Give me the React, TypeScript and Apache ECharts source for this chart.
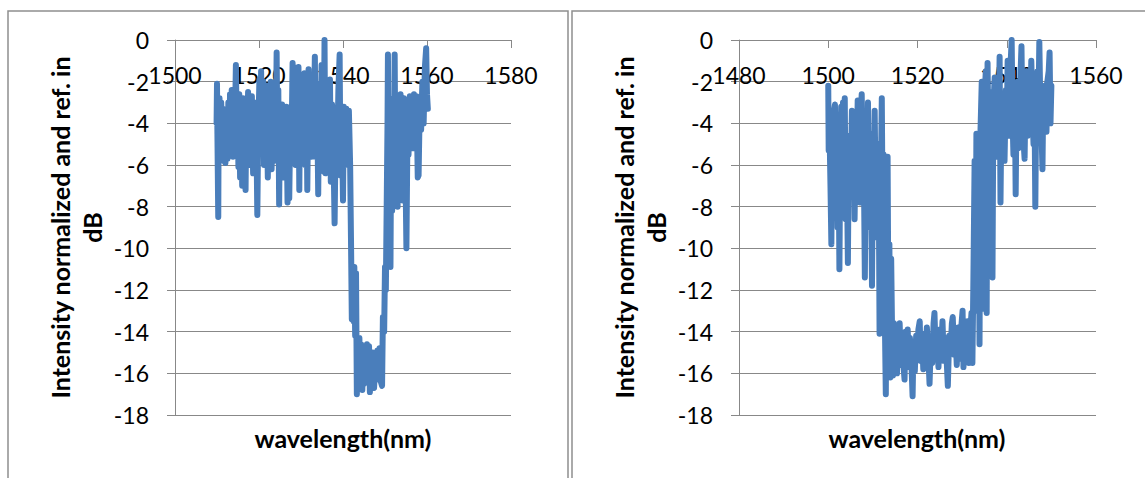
import React, { useEffect, useRef } from "react";
import * as echarts from "echarts";

// ---- Data ----
const leftWavelength = [
  1509.9, 1510.0, 1510.1, 1510.3, 1510.4, 1510.6, 1510.8, 1511.0, 1511.2, 1511.4,
  1511.6, 1511.8, 1512.0, 1512.2, 1512.5, 1512.7, 1512.9, 1513.1, 1513.3, 1513.5,
  1513.8, 1514.0, 1514.2, 1514.5, 1514.7, 1514.9, 1515.1, 1515.3, 1515.5, 1515.8,
  1516.0, 1516.2, 1516.4, 1516.6, 1516.8, 1517.0, 1517.2, 1517.4, 1517.7, 1517.9,
  1518.1, 1518.3, 1518.6, 1518.8, 1519.0, 1519.3, 1519.6, 1519.8, 1520.1, 1520.3,
  1520.5, 1520.7, 1521.0, 1521.2, 1521.4, 1521.6, 1521.8, 1522.1, 1522.3, 1522.5,
  1522.8, 1523.0, 1523.2, 1523.5, 1523.7, 1524.0, 1524.2, 1524.4, 1524.6, 1524.8,
  1525.0, 1525.3, 1525.5, 1525.8, 1526.0, 1526.3, 1526.5, 1526.8, 1527.0, 1527.2,
  1527.5, 1527.7, 1528.0, 1528.2, 1528.4, 1528.7, 1528.9, 1529.1, 1529.4, 1529.6,
  1529.8, 1530.1, 1530.3, 1530.6, 1530.8, 1531.0, 1531.3, 1531.5, 1531.8, 1532.0,
  1532.2, 1532.5, 1532.8, 1533.0, 1533.3, 1533.5, 1533.8, 1534.1, 1534.3, 1534.6,
  1534.9, 1535.1, 1535.4, 1535.6, 1535.8, 1536.0, 1536.3, 1536.6, 1536.9, 1537.1,
  1537.4, 1537.7, 1538.0, 1538.3, 1538.6, 1538.9, 1539.2, 1539.4, 1539.7, 1540.0,
  1540.2, 1540.5, 1540.8, 1541.1, 1541.4, 1541.5, 1541.7, 1541.9, 1542.1, 1542.3,
  1542.5, 1542.7, 1542.9, 1543.1, 1543.3, 1543.5, 1543.7, 1543.9, 1544.1, 1544.3,
  1544.6, 1544.8, 1545.0, 1545.3, 1545.5, 1545.7, 1546.0, 1546.2, 1546.4, 1546.7,
  1546.9, 1547.1, 1547.4, 1547.7, 1547.9, 1548.2, 1548.4, 1548.7, 1549.0, 1549.3,
  1549.5, 1549.8, 1550.0, 1550.2, 1550.4, 1550.6, 1550.7, 1550.9, 1551.1, 1551.3,
  1551.5, 1551.7, 1551.9, 1552.1, 1552.3, 1552.5, 1552.7, 1553.0, 1553.2, 1553.5,
  1553.7, 1554.0, 1554.2, 1554.5, 1554.8, 1555.1, 1555.4, 1555.6, 1555.9, 1556.1,
  1556.4, 1556.7, 1556.9, 1557.2, 1557.5, 1557.8, 1558.0, 1558.3, 1558.6, 1558.9,
  1559.2, 1559.5, 1559.8, 1560.0, 1560.2,
];
const leftIntensity = [
  -4.0, -2.1, -4.5, -8.5, -3.2, -2.8, -5.2, -3.0, -4.6, -3.3,
  -5.8, -4.2, -5.9, -3.6, -5.7, -3.0, -5.4, -2.6, -4.9, -2.4,
  -5.6, -2.7, -4.8, -1.2, -4.4, -2.9, -6.1, -2.6, -6.6, -3.4,
  -7.0, -2.8, -6.3, -3.8, -7.2, -3.1, -5.0, -2.5, -6.0, -3.5,
  -5.5, -2.7, -6.4, -4.0, -5.2, -3.0, -8.4, -4.6, -1.9, -5.4,
  -1.5, -4.3, -2.0, -6.0, -3.2, -5.3, -2.2, -6.6, -3.5, -5.9,
  -2.0, -6.2, -3.9, -5.8, -2.9, -4.8, -0.6, -5.5, -2.4, -7.9,
  -3.3, -6.1, -3.1, -6.6, -3.5, -5.2, -3.2, -7.8, -4.0, -7.6,
  -3.2, -5.6, -1.1, -5.9, -1.3, -6.0, -2.4, -4.6, -1.3, -7.2,
  -1.8, -5.8, -2.2, -5.4, -1.6, -6.0, -2.0, -7.2, -1.4, -5.0,
  -1.9, -5.6, -2.2, -4.5, -0.8, -5.6, -2.1, -7.4, -2.5, -5.4,
  -1.2, -5.1, -6.3, 0.0, -6.4, -4.9, -2.2, -5.2, -1.9, -6.8,
  -3.1, -5.0, -8.8, -3.6, -6.0, -2.4, -0.7, -6.5, -3.3, -7.7,
  -3.2, -6.0, -3.3, -5.9, -3.4, -3.4, -6.0, -9.5, -13.4, -11.5,
  -13.5, -10.9, -14.2, -11.2, -17.0, -14.4, -16.7, -14.3, -16.2, -14.6,
  -16.8, -15.0, -16.5, -14.8, -16.2, -14.6, -16.4, -14.7, -16.9, -15.2,
  -16.6, -15.0, -16.7, -15.4, -16.3, -14.9, -15.8, -14.8, -16.4, -16.6,
  -13.3, -14.0, -10.9, -12.0, -8.0, -4.0, -0.7, -8.3, -2.8, -10.9,
  -3.5, -8.2, -4.2, -7.0, -0.7, -6.8, -2.7, -8.0, -3.0, -7.0,
  -2.6, -5.5, -7.7, -2.8, -5.0, -10.0, -3.2, -5.5, -2.7, -4.6,
  -2.8, -5.2, -2.6, -4.8, -2.7, -6.6, -6.5, -2.8, -4.3, -2.0,
  -4.0, -1.3, -0.4, -2.6, -3.3,
];

const rightWavelength = [
  1500.0, 1500.1, 1500.3, 1500.5, 1500.7, 1500.9, 1501.1, 1501.3, 1501.5, 1501.7,
  1501.9, 1502.1, 1502.3, 1502.5, 1502.7, 1502.9, 1503.1, 1503.3, 1503.5, 1503.7,
  1503.9, 1504.1, 1504.4, 1504.6, 1504.8, 1505.0, 1505.3, 1505.5, 1505.7, 1505.9,
  1506.1, 1506.3, 1506.6, 1506.8, 1507.1, 1507.3, 1507.5, 1507.7, 1507.9, 1508.2,
  1508.4, 1508.6, 1508.9, 1509.1, 1509.3, 1509.5, 1509.8, 1510.0, 1510.2, 1510.4,
  1510.6, 1510.9, 1511.1, 1511.3, 1511.5, 1511.8, 1512.0, 1512.2, 1512.4, 1512.6,
  1512.9, 1513.1, 1513.3, 1513.5, 1513.7, 1513.9, 1514.1, 1514.3, 1514.5, 1514.7,
  1514.9, 1515.1, 1515.4, 1515.6, 1515.8, 1516.0, 1516.3, 1516.5, 1516.8, 1517.1,
  1517.3, 1517.6, 1517.8, 1518.1, 1518.3, 1518.6, 1518.9, 1519.1, 1519.4, 1519.7,
  1520.0, 1520.2, 1520.5, 1520.7, 1521.0, 1521.3, 1521.5, 1521.8, 1522.1, 1522.4,
  1522.7, 1523.0, 1523.3, 1523.6, 1523.8, 1524.1, 1524.4, 1524.7, 1525.0, 1525.3,
  1525.6, 1525.9, 1526.2, 1526.5, 1526.8, 1527.1, 1527.4, 1527.7, 1527.9, 1528.2,
  1528.5, 1528.8, 1529.1, 1529.4, 1529.7, 1530.1, 1530.3, 1530.6, 1530.9, 1531.2,
  1531.5, 1531.8, 1532.1, 1532.3, 1532.5, 1532.8, 1533.0, 1533.2, 1533.4, 1533.7,
  1533.9, 1534.1, 1534.4, 1534.6, 1534.8, 1535.0, 1535.3, 1535.5, 1535.7, 1535.9,
  1536.2, 1536.4, 1536.6, 1536.8, 1537.0, 1537.3, 1537.5, 1537.7, 1537.9, 1538.2,
  1538.4, 1538.6, 1538.8, 1539.1, 1539.3, 1539.5, 1539.8, 1540.0, 1540.2, 1540.4,
  1540.6, 1540.8, 1541.1, 1541.3, 1541.5, 1541.8, 1542.0, 1542.2, 1542.4, 1542.6,
  1542.9, 1543.1, 1543.3, 1543.5, 1543.8, 1544.0, 1544.2, 1544.4, 1544.7, 1544.9,
  1545.1, 1545.3, 1545.5, 1545.8, 1546.0, 1546.2, 1546.4, 1546.6, 1546.9, 1547.1,
  1547.3, 1547.5, 1547.8, 1548.0, 1548.2, 1548.5, 1548.7, 1548.9, 1549.1, 1549.4,
  1549.6, 1549.8, 1550.0,
];
const rightIntensity = [
  -2.2, -5.3, -4.5, -7.0, -9.8, -4.0, -8.5, -3.4, -3.1, -6.8,
  -3.6, -9.0, -4.2, -11.0, -5.0, -3.2, -8.0, -3.0, -6.5, -2.8,
  -8.6, -4.8, -10.7, -5.2, -4.6, -7.5, -3.4, -6.8, -4.0, -8.6,
  -5.5, -7.0, -2.9, -6.2, -7.8, -3.5, -2.6, -6.5, -4.0, -11.4,
  -5.8, -7.5, -3.0, -6.3, -9.0, -4.5, -11.8, -6.0, -8.8, -3.4,
  -7.0, -5.0, -9.5, -6.0, -14.1, -6.5, -2.8, -9.0, -5.5, -12.0,
  -17.0, -9.7, -5.6, -14.0, -9.8, -16.2, -10.5, -14.0, -16.1, -13.6,
  -15.8, -14.2, -16.0, -13.9, -15.2, -13.6, -15.6, -14.2, -15.5, -16.3,
  -14.0, -15.0, -13.9, -15.7, -14.3, -15.3, -17.1, -14.6, -15.9, -14.2,
  -15.0, -13.9, -13.5, -15.4, -14.1, -15.8, -14.4, -15.1, -13.8, -15.0,
  -16.5, -14.5, -15.5, -13.6, -13.1, -15.2, -14.0, -15.7, -13.9, -14.9,
  -13.5, -15.4, -14.3, -15.2, -16.6, -14.2, -15.0, -13.6, -13.3, -15.1,
  -14.0, -15.6, -13.8, -15.3, -14.1, -13.0, -15.7, -14.0, -15.2, -13.5,
  -15.5, -14.1, -13.1, -15.5, -12.0, -5.8, -13.0, -4.5, -12.0, -6.0,
  -14.6, -4.5, -2.0, -10.0, -12.9, -3.0, -1.5, -13.1, -1.1, -5.0,
  -6.0, -2.5, -9.0, -11.4, -3.2, -1.8, -4.8, -5.6, -2.4, -4.0,
  -0.8, -7.8, -3.5, -3.0, -5.0, -5.8, -2.4, -4.3, -1.0, -3.6,
  -4.6, -1.5, 0.0, -3.8, -5.5, -2.6, -7.4, -3.0, -2.0, -5.2,
  -4.8, -1.6, -0.3, -3.8, -5.0, -5.7, -2.6, -1.5, -4.6, -4.2,
  -2.0, -3.6, -1.0, -3.8, -5.0, -2.5, -8.0, -3.0, -1.5, -3.3,
  -0.1, -2.8, -4.5, -6.2, -2.4, -2.2, -3.6, -4.4, -2.0, -1.5,
  -0.6, -4.0, -2.2,
];

const leftXRange = [1500, 1580];
const rightXRange = [1480, 1560];
const yRange = [-18, 0];
const xStep = 20;
const yStep = 2;

const yTitle = "Intensity normalized and ref. in\ndB";
const xTitle = "wavelength(nm)";

const FONT = "Lato";
const LINE_COLOR = "#4a7ebb";
const GRID_COLOR = "#888888";
const TICK_FONT = 23;
const TITLE_FONT = 25;

const plain = (v: number) => String(v);

function makeX(gridIndex: number, range: number[]) {
  return {
    type: "value",
    gridIndex,
    position: "top",
    min: range[0],
    max: range[1],
    interval: xStep,
    axisLine: { show: true, onZero: false, lineStyle: { color: GRID_COLOR, width: 1 } },
    axisTick: { show: true, inside: true, length: 8, lineStyle: { color: GRID_COLOR } },
    axisLabel: {
      show: true,
      inside: true,
      margin: 23,
      color: "#000",
      fontFamily: FONT,
      fontSize: TICK_FONT,
      formatter: plain,
      showMinLabel: true,
      showMaxLabel: true,
      hideOverlap: false,
    },
    splitLine: { show: false },
  };
}

function makeY(gridIndex: number) {
  return {
    type: "value",
    gridIndex,
    min: yRange[0],
    max: yRange[1],
    interval: yStep,
    axisLine: { show: true, onZero: false, lineStyle: { color: GRID_COLOR, width: 1 } },
    axisTick: { show: true, length: 8, lineStyle: { color: GRID_COLOR } },
    axisLabel: {
      show: true,
      margin: 26,
      color: "#000",
      fontFamily: FONT,
      fontSize: TICK_FONT,
      formatter: plain,
      showMinLabel: true,
      showMaxLabel: true,
      hideOverlap: false,
    },
    splitLine: { show: true, lineStyle: { color: GRID_COLOR, width: 1 } },
    name: yTitle,
    nameLocation: "middle",
    nameRotate: 90,
    nameGap: 67,
    nameTextStyle: {
      color: "#000",
      fontFamily: FONT,
      fontSize: TITLE_FONT,
      fontWeight: "bold",
      lineHeight: 32,
      align: "center",
    },
  };
}

function xTitleText(cx: number) {
  return {
    type: "text",
    x: cx,
    y: 438,
    style: {
      text: xTitle,
      fill: "#000",
      font: `bold ${TITLE_FONT}px ${FONT}`,
      textAlign: "center",
      textVerticalAlign: "middle",
    },
  };
}

export default function App() {
  const ref = useRef<HTMLDivElement>(null);
  useEffect(() => {
    if (!ref.current) return;
    const chart = echarts.init(ref.current, undefined, { renderer: "svg" });
    const leftData = leftWavelength.map((w, i) => [w, leftIntensity[i]]);
    const rightData = rightWavelength.map((w, i) => [w, rightIntensity[i]]);
    chart.setOption({
      animation: false,
      backgroundColor: "#ffffff",
      textStyle: { fontFamily: FONT },
      grid: [
        { left: 175, top: 40, width: 336, height: 375, containLabel: false, outerBoundsMode: "none" },
        { left: 739, top: 40, width: 357, height: 375, containLabel: false, outerBoundsMode: "none" },
      ],
      xAxis: [makeX(0, leftXRange), makeX(1, rightXRange)],
      yAxis: [makeY(0), makeY(1)],
      graphic: [
        {
          type: "rect",
          shape: { x: 8, y: 11, width: 560, height: 480 },
          style: { fill: "none", stroke: "#8f8f8f", lineWidth: 1.5 },
          z: -1,
        },
        {
          type: "rect",
          shape: { x: 572, y: 11, width: 600, height: 480 },
          style: { fill: "none", stroke: "#8f8f8f", lineWidth: 1.5 },
          z: -1,
        },
        xTitleText(343),
        xTitleText(917),
      ],
      series: [
        {
          type: "line",
          xAxisIndex: 0,
          yAxisIndex: 0,
          data: leftData,
          showSymbol: false,
          lineStyle: { color: LINE_COLOR, width: 6, cap: "round", join: "round" },
        },
        {
          type: "line",
          xAxisIndex: 1,
          yAxisIndex: 1,
          data: rightData,
          showSymbol: false,
          lineStyle: { color: LINE_COLOR, width: 6, cap: "round", join: "round" },
        },
      ],
    });
    return () => chart.dispose();
  }, []);
  return (
    <div
      ref={ref}
      style={{ position: "absolute", left: 0, top: 0, width: 1145, height: 478 }}
    />
  );
}
